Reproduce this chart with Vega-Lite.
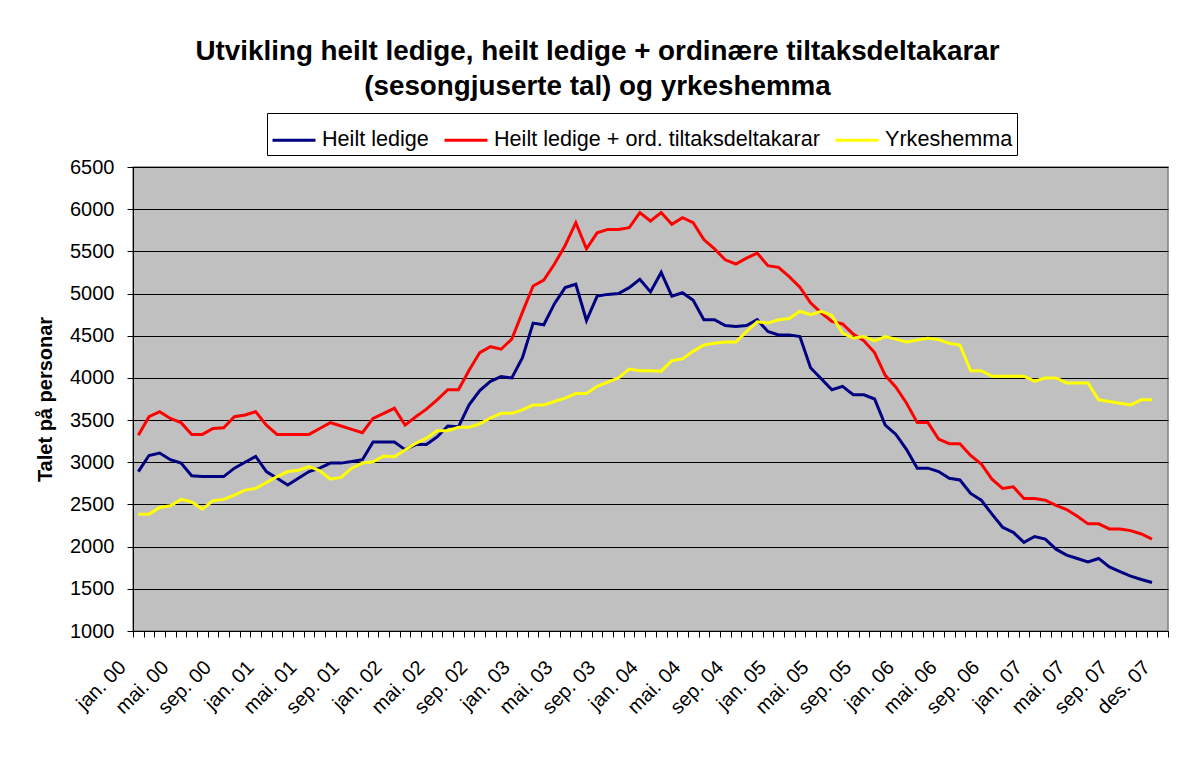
{
  "$schema": "https://vega.github.io/schema/vega-lite/v6.json",
  "width": 1035,
  "height": 464,
  "autosize": {"type": "none"},
  "padding": {"left": 133, "top": 167, "right": 11, "bottom": 152},
  "background": "white",
  "config": {
    "font": "Liberation Sans",
    "view": {"fill": "#C0C0C0", "stroke": "#808080", "strokeWidth": 1.5}
  },
  "title": {
    "text": ["Utvikling heilt ledige, heilt ledige + ordinære tiltaksdeltakarar", "(sesongjuserte tal) og yrkeshemma"],
    "fontSize": 27.8,
    "fontWeight": "bold",
    "color": "black",
    "lineHeight": 35,
    "anchor": "middle",
    "dx": -53,
    "offset": 12
  },
  "data": {
    "values": [
      {"i":0,"hl":2890,"hlt":3320,"yh":2385},
      {"i":1,"hl":3080,"hlt":3540,"yh":2385},
      {"i":2,"hl":3110,"hlt":3600,"yh":2465},
      {"i":3,"hl":3030,"hlt":3520,"yh":2485},
      {"i":4,"hl":2990,"hlt":3470,"yh":2560},
      {"i":5,"hl":2840,"hlt":3330,"yh":2530},
      {"i":6,"hl":2830,"hlt":3330,"yh":2445},
      {"i":7,"hl":2830,"hlt":3400,"yh":2545},
      {"i":8,"hl":2830,"hlt":3410,"yh":2560},
      {"i":9,"hl":2930,"hlt":3540,"yh":2610},
      {"i":10,"hl":3000,"hlt":3560,"yh":2670},
      {"i":11,"hl":3070,"hlt":3600,"yh":2690},
      {"i":12,"hl":2890,"hlt":3440,"yh":2760},
      {"i":13,"hl":2810,"hlt":3330,"yh":2830},
      {"i":14,"hl":2730,"hlt":3330,"yh":2890},
      {"i":15,"hl":2810,"hlt":3330,"yh":2905},
      {"i":16,"hl":2890,"hlt":3330,"yh":2950},
      {"i":17,"hl":2930,"hlt":3400,"yh":2900},
      {"i":18,"hl":2990,"hlt":3470,"yh":2800},
      {"i":19,"hl":2990,"hlt":3430,"yh":2820},
      {"i":20,"hl":3010,"hlt":3390,"yh":2930},
      {"i":21,"hl":3030,"hlt":3350,"yh":2990},
      {"i":22,"hl":3240,"hlt":3520,"yh":3005},
      {"i":23,"hl":3240,"hlt":3580,"yh":3075},
      {"i":24,"hl":3240,"hlt":3640,"yh":3065},
      {"i":25,"hl":3150,"hlt":3440,"yh":3145},
      {"i":26,"hl":3210,"hlt":3540,"yh":3225},
      {"i":27,"hl":3210,"hlt":3630,"yh":3285},
      {"i":28,"hl":3300,"hlt":3740,"yh":3375},
      {"i":29,"hl":3430,"hlt":3860,"yh":3375},
      {"i":30,"hl":3420,"hlt":3860,"yh":3415},
      {"i":31,"hl":3680,"hlt":4090,"yh":3415},
      {"i":32,"hl":3850,"hlt":4300,"yh":3455},
      {"i":33,"hl":3960,"hlt":4370,"yh":3525},
      {"i":34,"hl":4015,"hlt":4340,"yh":3580},
      {"i":35,"hl":4000,"hlt":4460,"yh":3580},
      {"i":36,"hl":4240,"hlt":4780,"yh":3620},
      {"i":37,"hl":4650,"hlt":5090,"yh":3680},
      {"i":38,"hl":4630,"hlt":5160,"yh":3680},
      {"i":39,"hl":4880,"hlt":5350,"yh":3720},
      {"i":40,"hl":5070,"hlt":5570,"yh":3760},
      {"i":41,"hl":5110,"hlt":5840,"yh":3815},
      {"i":42,"hl":4680,"hlt":5530,"yh":3815},
      {"i":43,"hl":4970,"hlt":5720,"yh":3900},
      {"i":44,"hl":4990,"hlt":5760,"yh":3950},
      {"i":45,"hl":5000,"hlt":5760,"yh":4000},
      {"i":46,"hl":5070,"hlt":5780,"yh":4105},
      {"i":47,"hl":5170,"hlt":5960,"yh":4085},
      {"i":48,"hl":5020,"hlt":5860,"yh":4085},
      {"i":49,"hl":5250,"hlt":5960,"yh":4080},
      {"i":50,"hl":4970,"hlt":5820,"yh":4205},
      {"i":51,"hl":5010,"hlt":5900,"yh":4225},
      {"i":52,"hl":4920,"hlt":5840,"yh":4315},
      {"i":53,"hl":4690,"hlt":5640,"yh":4390},
      {"i":54,"hl":4690,"hlt":5530,"yh":4410},
      {"i":55,"hl":4620,"hlt":5400,"yh":4425},
      {"i":56,"hl":4610,"hlt":5350,"yh":4425},
      {"i":57,"hl":4620,"hlt":5420,"yh":4550},
      {"i":58,"hl":4690,"hlt":5480,"yh":4665},
      {"i":59,"hl":4550,"hlt":5330,"yh":4650},
      {"i":60,"hl":4510,"hlt":5310,"yh":4690},
      {"i":61,"hl":4510,"hlt":5200,"yh":4705},
      {"i":62,"hl":4490,"hlt":5075,"yh":4790},
      {"i":63,"hl":4120,"hlt":4890,"yh":4750},
      {"i":64,"hl":3990,"hlt":4770,"yh":4790},
      {"i":65,"hl":3860,"hlt":4670,"yh":4740},
      {"i":66,"hl":3900,"hlt":4640,"yh":4530},
      {"i":67,"hl":3800,"hlt":4520,"yh":4470},
      {"i":68,"hl":3800,"hlt":4440,"yh":4490},
      {"i":69,"hl":3750,"hlt":4300,"yh":4440},
      {"i":70,"hl":3440,"hlt":4030,"yh":4490},
      {"i":71,"hl":3330,"hlt":3890,"yh":4460},
      {"i":72,"hl":3150,"hlt":3700,"yh":4425},
      {"i":73,"hl":2930,"hlt":3470,"yh":4450},
      {"i":74,"hl":2930,"hlt":3470,"yh":4470},
      {"i":75,"hl":2890,"hlt":3275,"yh":4455},
      {"i":76,"hl":2810,"hlt":3220,"yh":4410},
      {"i":77,"hl":2790,"hlt":3220,"yh":4390},
      {"i":78,"hl":2630,"hlt":3080,"yh":4085},
      {"i":79,"hl":2550,"hlt":2980,"yh":4085},
      {"i":80,"hl":2385,"hlt":2800,"yh":4020},
      {"i":81,"hl":2230,"hlt":2690,"yh":4020},
      {"i":82,"hl":2170,"hlt":2710,"yh":4020},
      {"i":83,"hl":2050,"hlt":2570,"yh":4020},
      {"i":84,"hl":2120,"hlt":2570,"yh":3960},
      {"i":85,"hl":2090,"hlt":2550,"yh":4000},
      {"i":86,"hl":1970,"hlt":2490,"yh":4000},
      {"i":87,"hl":1900,"hlt":2440,"yh":3940},
      {"i":88,"hl":1860,"hlt":2360,"yh":3940},
      {"i":89,"hl":1820,"hlt":2270,"yh":3940},
      {"i":90,"hl":1860,"hlt":2270,"yh":3740},
      {"i":91,"hl":1760,"hlt":2210,"yh":3720},
      {"i":92,"hl":1705,"hlt":2210,"yh":3700},
      {"i":93,"hl":1650,"hlt":2190,"yh":3680},
      {"i":94,"hl":1610,"hlt":2150,"yh":3740},
      {"i":95,"hl":1575,"hlt":2090,"yh":3740}
    ]
  },
  "transform": [{"fold": ["hl", "hlt", "yh"], "as": ["serie", "v"]}],
  "encoding": {
    "y": {
      "field": "v",
      "type": "quantitative",
      "scale": {"domain": [1000, 6500], "nice": false, "zero": false},
      "axis": {
        "values": [1000,1500,2000,2500,3000,3500,4000,4500,5000,5500,6000,6500],
        "format": "d",
        "title": "Talet på personar",
        "titleFontSize": 20,
        "titleFontWeight": "bold",
        "titleColor": "black",
        "titlePadding": 14,
        "labelFontSize": 20,
        "labelColor": "black",
        "labelPadding": 13,
        "tickSize": 6,
        "tickColor": "black",
        "domainColor": "black",
        "grid": true,
        "gridColor": "black",
        "gridOpacity": 1,
        "gridWidth": 1
      }
    },
    "color": {
      "field": "serie",
      "type": "nominal",
      "scale": {"domain": ["hl", "hlt", "yh"], "range": ["#000080", "#FF0000", "#FFFF00"]},
      "legend": {
        "orient": "none",
        "legendX": 134,
        "legendY": -54,
        "direction": "horizontal",
        "title": null,
        "strokeColor": "black",
        "fillColor": "white",
        "padding": 4,
        "labelFontSize": 21.6,
        "labelColor": "black",
        "labelOffset": 5,
        "labelLimit": 0,
        "columnPadding": 9,
        "symbolType": "stroke",
        "symbolSize": 1849,
        "symbolStrokeWidth": 3,
        "labelExpr": "datum.label == 'hl' ? 'Heilt ledige' : datum.label == 'hlt' ? 'Heilt ledige + ord. tiltaksdeltakarar' : 'Yrkeshemma'"
      }
    }
  },
  "layer": [
    {
      "mark": {"type": "line", "strokeWidth": 3, "opacity": 0},
      "encoding": {
        "x": {
          "field": "i",
          "type": "quantitative",
          "scale": {"domain": [-0.5, 96.5], "nice": false, "zero": false},
          "axis": {
            "orient": "bottom",
            "values": [-0.5,0.5,1.5,2.5,3.5,4.5,5.5,6.5,7.5,8.5,9.5,10.5,11.5,12.5,13.5,14.5,15.5,16.5,17.5,18.5,19.5,20.5,21.5,22.5,23.5,24.5,25.5,26.5,27.5,28.5,29.5,30.5,31.5,32.5,33.5,34.5,35.5,36.5,37.5,38.5,39.5,40.5,41.5,42.5,43.5,44.5,45.5,46.5,47.5,48.5,49.5,50.5,51.5,52.5,53.5,54.5,55.5,56.5,57.5,58.5,59.5,60.5,61.5,62.5,63.5,64.5,65.5,66.5,67.5,68.5,69.5,70.5,71.5,72.5,73.5,74.5,75.5,76.5,77.5,78.5,79.5,80.5,81.5,82.5,83.5,84.5,85.5,86.5,87.5,88.5,89.5,90.5,91.5,92.5,93.5,94.5,95.5,96.5],
            "labels": false,
            "ticks": true,
            "tickSize": 6,
            "tickColor": "black",
            "domain": true,
            "domainColor": "black",
            "grid": false,
            "title": null
          }
        }
      }
    },
    {
      "mark": {"type": "line", "strokeWidth": 3},
      "encoding": {
        "x": {
          "field": "i",
          "type": "quantitative",
          "axis": {
            "orient": "bottom",
            "values": [0,4,8,12,16,20,24,28,32,36,40,44,48,52,56,60,64,68,72,76,80,84,88,92,96],
            "labelExpr": "datum.value == 96 ? 'des. 07' : (['jan. ','mai. ','sep. '][(datum.value / 4) % 3] + '0' + floor(datum.value / 12))",
            "labelAngle": -45,
            "labelAlign": "right",
            "labelBaseline": "middle",
            "labelFontSize": 20,
            "labelColor": "black",
            "labelPadding": 33,
            "labelOffset": -16,
            "labelOverlap": false,
            "ticks": false,
            "domain": false,
            "grid": false,
            "title": null
          }
        }
      }
    }
  ],
  "resolve": {"axis": {"x": "independent"}}
}
